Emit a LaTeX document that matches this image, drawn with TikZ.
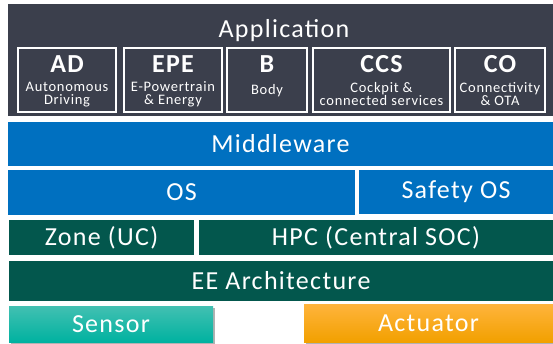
\documentclass[tikz,border=0pt]{standalone}
\usepackage{fontspec}
\setmainfont{Carlito}[LetterSpace=5]
\usetikzlibrary{shadows}
\definecolor{appdark}{HTML}{3B3F4C}
\definecolor{mwblue}{HTML}{0070C0}
\definecolor{eegreen}{HTML}{03574D}
\definecolor{sensortop}{HTML}{42C0B2}
\definecolor{sensorbot}{HTML}{00B2A0}
\definecolor{acttop}{HTML}{FFB43C}
\definecolor{actbot}{HTML}{F2A000}
\begin{document}
\begin{tikzpicture}[x=1pt,y=-1pt,
  layer/.style={draw=none, inner sep=0pt, text=white, font=\fontsize{26}{28}\selectfont},
  appbox/.style={draw=white, line width=1.5pt, fill=appdark, inner sep=0pt},
  boxtitle/.style={text=white, inner sep=0pt, font=\bfseries\fontsize{26}{28}\selectfont},
  boxsub/.style={text=white, inner sep=0pt, align=center, font=\fontsize{14.5}{13}\selectfont},
  shad/.style={drop shadow={shadow xshift=1.5pt, shadow yshift=-2pt, fill=black, opacity=0.3}}
]
\useasboundingbox[fill=white] (0,0) rectangle (553,344);

% Application
\node[layer, fill=appdark, minimum width=545pt, minimum height=112pt] (app) at (280.5,60) {};
\node[layer] (apptitle) at (284,31) {Application};

\node[appbox, minimum width=98pt, minimum height=64pt] (ad) at (67,80) {};
\node[appbox, minimum width=98pt, minimum height=64pt] (epe) at (173,80) {};
\node[appbox, minimum width=80pt, minimum height=64pt] (b) at (267,80) {};
\node[appbox, minimum width=137pt, minimum height=64pt] (ccs) at (381.5,80) {};
\node[appbox, minimum width=90pt, minimum height=64pt] (co) at (500,80) {};

\node[boxtitle] (adt) at (67,64) {AD};
\node[boxsub] (ads) at (67,94.5) {Autonomous\\Driving};
\node[boxtitle] (epet) at (173,64) {EPE};
\node[boxsub] (epes) at (173,94.5) {E-Powertrain\\\& Energy};
\node[boxtitle] (bt) at (267,64) {B};
\node[boxsub] (bs) at (267,91) {Body};
\node[boxtitle] (ccst) at (381.5,64) {CCS};
\node[boxsub] (ccss) at (381.5,94.5) {Cockpit \&\\connected services};
\node[boxtitle] (cot) at (500,64) {CO};
\node[boxsub] (cos) at (500,94.5) {Connectivity\\\& OTA};

% Middleware / OS
\node[layer, fill=mwblue, minimum width=545pt, minimum height=44pt] (mw) at (280.5,144) {Middleware};
\node[layer, fill=mwblue, minimum width=347pt, minimum height=45pt] (os) at (181.5,192.5) {OS};
\node[layer, fill=mwblue, minimum width=194pt, minimum height=44pt] (sos) at (456,192) {Safety OS};

% Zone / HPC / EE
\node[layer, fill=eegreen, minimum width=185pt, minimum height=35pt] (zone) at (101.5,237.5) {Zone (UC)};
\node[layer, fill=eegreen, minimum width=354pt, minimum height=35pt] (hpc) at (376,237.5) {HPC (Central SOC)};
\node[layer, fill=eegreen, minimum width=544pt, minimum height=40pt] (ee) at (281,281) {EE Architecture};

% Sensor / Actuator
\node[layer, shad, top color=sensortop, bottom color=sensorbot, minimum width=204pt, minimum height=36pt] (sensor) at (111,324) {Sensor};
\node[layer, shad, top color=acttop, bottom color=actbot, minimum width=249pt, minimum height=38pt] (act) at (428.5,323) {Actuator};
\end{tikzpicture}
\end{document}
